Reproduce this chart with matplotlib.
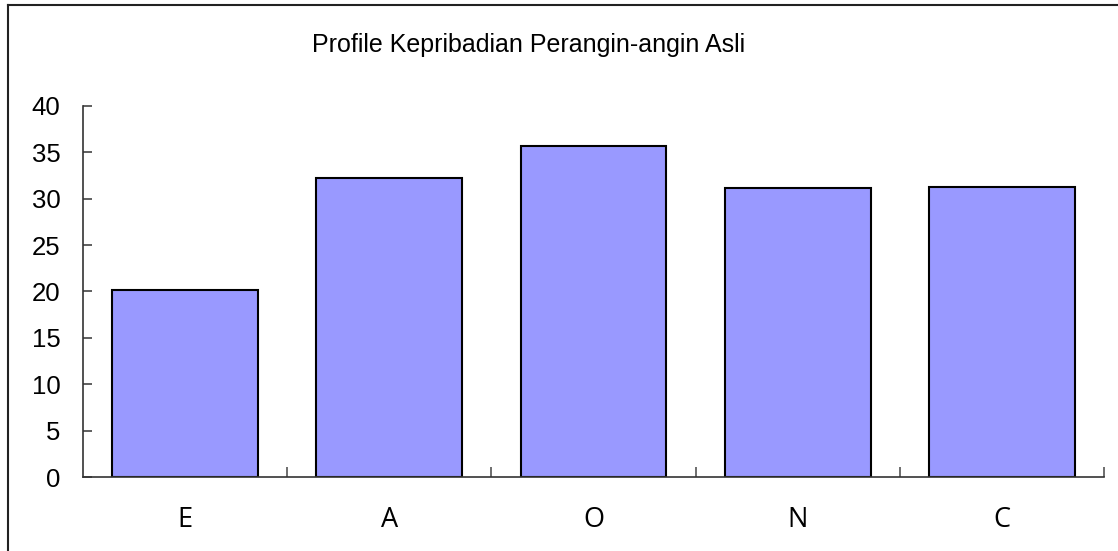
import matplotlib.pyplot as plt
import matplotlib.lines as mlines

categories = ["E", "A", "O", "N", "C"]
values = [20.2, 32.25, 35.65, 31.1, 31.3]
y_ticks = [0, 5, 10, 15, 20, 25, 30, 35, 40]
title = "Profile Kepribadian Perangin-angin Asli"

plt.rcParams['font.family'] = ['Liberation Sans', 'DejaVu Sans']

fig = plt.figure(figsize=(11.18, 5.51), dpi=100)
ax = fig.add_axes([0.074, 0.1338, 0.9138, 0.6744])

x = range(len(categories))
ax.bar(x, values, width=0.714, color="#9999FF", edgecolor="black", linewidth=1.5, zorder=2)

ax.set_xlim(-0.5, len(categories) - 0.5)
ax.set_ylim(0, 40)
ax.set_yticks(y_ticks)
ax.set_xticks(list(x))
ax.set_xticklabels(categories, fontfamily=['Open Sans', 'DejaVu Sans'])
ax.set_xticks([i + 0.5 for i in x], minor=True)

for side in ("top", "right"):
    ax.spines[side].set_visible(False)
for side in ("left", "bottom"):
    ax.spines[side].set_color("#333333")
    ax.spines[side].set_linewidth(1.2)

ax.tick_params(axis="y", direction="in", length=6.5, width=1.2, color="#444444",
               labelsize=18.5, pad=16)
ax.tick_params(axis="x", which="major", length=0, labelsize=19.5, pad=21)
ax.tick_params(axis="x", which="minor", direction="in", length=7, width=1.2, color="#555555")

fig.text(529 / 1118, 1 - 45 / 551, title, ha="center", va="center", fontsize=18)

# outer chart border (left and top visible)
fig.add_artist(mlines.Line2D([8.3 / 1118, 8.3 / 1118], [0, 1 - 5 / 551],
                             transform=fig.transFigure, color="#222222", linewidth=1.5))
fig.add_artist(mlines.Line2D([8.3 / 1118, 1], [1 - 5 / 551, 1 - 5 / 551],
                             transform=fig.transFigure, color="#222222", linewidth=1.5))

fig.savefig("out.png", dpi=100)
